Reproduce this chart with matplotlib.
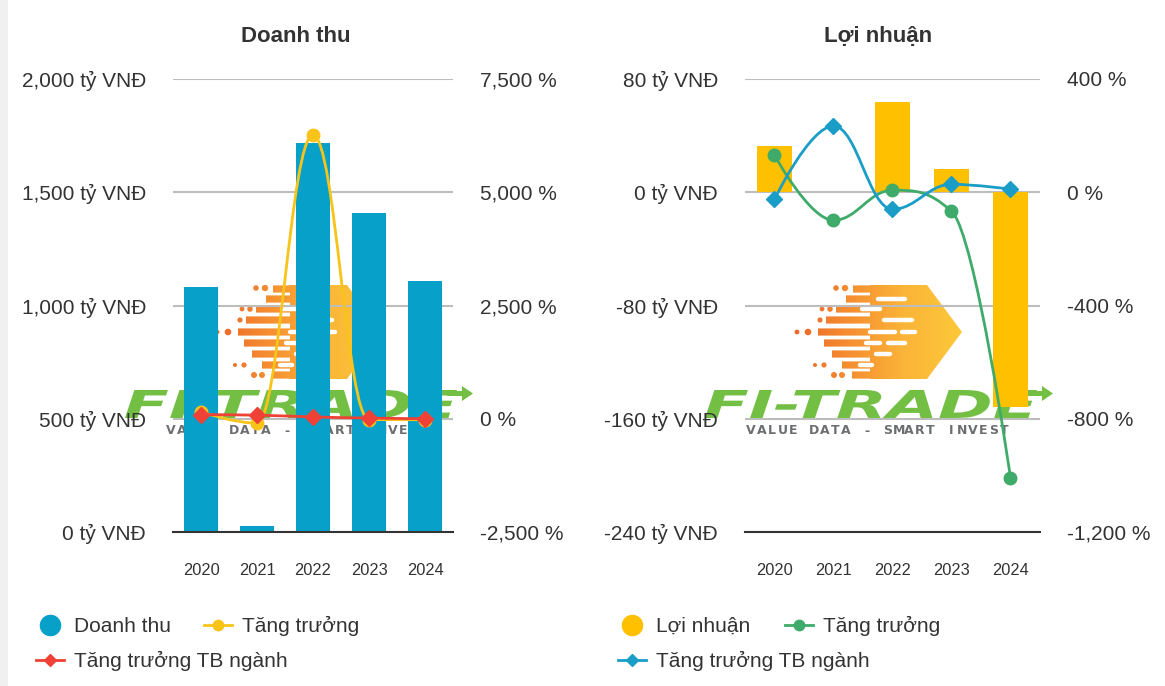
import numpy as np
import matplotlib
matplotlib.use("Agg")
import matplotlib.pyplot as plt
from matplotlib.path import Path
from matplotlib.patches import PathPatch, Polygon, Rectangle
from matplotlib.textpath import TextPath
from matplotlib.font_manager import FontProperties
from matplotlib.transforms import Affine2D

plt.rcParams['font.family'] = ['Liberation Sans', 'DejaVu Sans']

# -----------------------------
# data
# -----------------------------
years = ['2020', '2021', '2022', '2023', '2024']

doanh_thu = [1082, 27, 1717, 1408, 1108]          # ty VND
dt_tang_truong = [150, -98, 6260, -18, -21]        # %
dt_tb_nganh = [90, 80, 40, 15, 0]                  # %

loi_nhuan = [32.6, 0.3, 63.7, 16.3, -151.5]        # ty VND
ln_tang_truong = [131, -99, 7, -67, -1009]         # %
ln_tb_nganh = [-25, 234, -60, 28, 11]              # %

dt_ticks = [0, 500, 1000, 1500, 2000]
dt_pct_ticks = [-2500, 0, 2500, 5000, 7500]
ln_ticks = [-240, -160, -80, 0, 80]
ln_pct_ticks = [-1200, -800, -400, 0, 400]

# colours
BLUE_BAR = '#06a0c9'
YELLOW_BAR = '#ffc000'
YELLOW_LINE = '#f8c419'
RED_LINE = '#ef4136'
GREEN_LINE = '#3fab6a'
BLUE_LINE = '#1a9ec8'
TXT = '#333333'
GRID = '#bdbdbd'

W, H = 1165, 686


def hc_spline(xs, ys, smoothing=1.5):
    # highcharts-like spline path through the points
    n = len(xs)
    ctrl = [None] * n
    d = smoothing + 1
    for i in range(1, n - 1):
        px, py = xs[i], ys[i]
        lx, ly = xs[i - 1], ys[i - 1]
        nx, ny = xs[i + 1], ys[i + 1]
        lcx = (smoothing * px + lx) / d
        lcy = (smoothing * py + ly) / d
        rcx = (smoothing * px + nx) / d
        rcy = (smoothing * py + ny) / d
        corr = (rcy - lcy) * (rcx - px) / (rcx - lcx) + py - rcy
        lcy += corr
        rcy += corr
        if lcy > ly and lcy > py:
            lcy = max(ly, py); rcy = 2 * py - lcy
        elif lcy < ly and lcy < py:
            lcy = min(ly, py); rcy = 2 * py - lcy
        if rcy > ny and rcy > py:
            rcy = max(ny, py); lcy = 2 * py - rcy
        elif rcy < ny and rcy < py:
            rcy = min(ny, py); lcy = 2 * py - rcy
        ctrl[i] = (lcx, lcy, rcx, rcy)
    verts = [(xs[0], ys[0])]
    codes = [Path.MOVETO]
    for i in range(1, n):
        a, b = ctrl[i - 1], ctrl[i]
        c1 = (a[2], a[3]) if a else (xs[i - 1], ys[i - 1])
        c2 = (b[0], b[1]) if b else (xs[i], ys[i])
        verts += [c1, c2, (xs[i], ys[i])]
        codes += [Path.CURVE4] * 3
    return Path(verts, codes)


def draw_logo(ax, dx):
    # FI-TRADE watermark, pixel coords (y down)
    # orange arrow block with gradient
    rows = [(289, 853), (299, 846), (309, 836), (320, 826), (332, 818),
            (343, 824), (354, 832), (365, 842), (375, 852)]
    paths = [Path([(870 + dx, 285), (927 + dx, 285), (962 + dx, 332),
                   (927 + dx, 379), (870 + dx, 379), (870 + dx, 285)])]
    for yc, xs in rows:
        x0 = xs + dx
        paths.append(Path([(x0, yc - 3.6), (870 + dx, yc - 3.6), (870 + dx, yc + 3.6),
                           (x0, yc + 3.6), (x0, yc - 3.6)]))
    dots = [(836, 288, 2.8), (845, 288, 3.2), (822, 309, 2.4), (830, 309, 2.8),
            (797, 332, 2.4), (808, 332, 3.3), (820, 320, 2.6), (815, 365, 2.0),
            (824, 365, 2.6), (834, 375, 3.0), (842, 375, 3.0)]
    for cx, cy, r in dots:
        c = Path.circle((cx + dx, cy), r)
        paths.append(c)
    clip = Path.make_compound_path(*paths)
    grad = np.linspace(0, 1, 256).reshape(1, -1)
    cmap = matplotlib.colors.LinearSegmentedColormap.from_list(
        'lg', ['#ec6227', '#f58d31', '#fbb538', '#fdc83a'])
    im = ax.imshow(grad, cmap=cmap, extent=(790 + dx, 962 + dx, 379, 285),
                   aspect='auto', zorder=1)
    im.set_clip_path(PathPatch(clip, transform=ax.transData))
    # white dashes inside the block
    for (x0, x1, yc) in [(878, 905, 299), (862, 880, 309), (884, 912, 320),
                         (870, 895, 332), (902, 915, 332), (866, 880, 343),
                         (888, 905, 343), (876, 890, 354), (860, 872, 365)]:
        ax.plot([x0 + dx, x1 + dx], [yc, yc], color='white', lw=3.2,
                solid_capstyle='round', zorder=2)
    # green word mark
    fp = FontProperties(family='DejaVu Sans', weight='bold', style='oblique')
    tp = TextPath((0, 0), 'FI-TRADE', size=40, prop=fp)
    bb = tp.get_extents()
    tr = (Affine2D().translate(-bb.x0, -bb.y0)
          .scale(332 / bb.width, -28 / bb.height)
          .translate(705 + dx, 418))
    ax.add_patch(PathPatch(tr.transform_path(tp), color='#72bf44', lw=0, zorder=3))
    ax.add_patch(Polygon([(1028 + dx, 391), (1042 + dx, 391), (1042 + dx, 386),
                          (1053 + dx, 393.5), (1042 + dx, 401), (1042 + dx, 396),
                          (1027 + dx, 396)], closed=True, color='#72bf44', lw=0,
                         zorder=3))
    # tagline with wide tracking
    tag = 'VALUE DATA - SMART INVEST'
    xs = np.linspace(751, 1004, len(tag))
    for ch, xc in zip(tag, xs):
        ax.text(xc + dx, 431, ch, ha='center', va='center', fontsize=9,
                family='DejaVu Sans', weight='bold', color='#6d6e71', zorder=3)


fig = plt.figure(figsize=(W / 100, H / 100), dpi=100)
fig.patch.set_facecolor('white')

# overlay for watermark, titles and legends (pixel coords)
ovl = fig.add_axes([0, 0, 1, 1])
ovl.set_zorder(-1)
ovl.set_xlim(0, W)
ovl.set_ylim(H, 0)
ovl.axis('off')
ovl.add_patch(Rectangle((0, 0), 8, H, color='#f0f0f0', lw=0))
draw_logo(ovl, 0)
draw_logo(ovl, -580)


def panel(rect, bars, bar_color, growth, g_color, g_marker, ind, i_color, i_marker,
          lticks, llabels, rticks, rlabels):
    ax = fig.add_axes([rect[0] / W, 1 - (rect[1] + rect[3]) / H, rect[2] / W, rect[3] / H])
    ax.patch.set_visible(False)
    x = np.arange(len(years))
    ax.bar(x, bars, width=0.6, color=bar_color, zorder=2)
    ax.set_xlim(-0.5, len(years) - 0.5)
    ax.set_ylim(lticks[0], lticks[-1])
    ax.set_yticks(lticks)
    ax.set_yticklabels(llabels)
    ax.set_xticks(x)
    ax.set_xticklabels(years)
    ax.grid(axis='y', color=GRID, lw=1.5, zorder=0)
    ax.set_axisbelow(True)
    for s in ['top', 'left', 'right']:
        ax.spines[s].set_visible(False)
    ax.spines['bottom'].set_color(TXT)
    ax.spines['bottom'].set_linewidth(1.5)
    ax.tick_params(axis='y', length=0, pad=19.5, labelsize=15, labelcolor=TXT)
    ax.tick_params(axis='x', length=0, pad=22.5, labelsize=11.8, labelcolor=TXT)

    ax2 = ax.twinx()
    ax2.set_ylim(rticks[0], rticks[-1])
    ax2.set_yticks(rticks)
    ax2.set_yticklabels(rlabels)
    for s in ax2.spines.values():
        s.set_visible(False)
    ax2.tick_params(axis='y', length=0, pad=19.5, labelsize=15, labelcolor=TXT)

    ax2.add_patch(PathPatch(hc_spline(list(x), growth), fill=False, edgecolor=g_color,
                            lw=2, zorder=3))
    ax2.plot(x, growth, linestyle='none', marker=g_marker, ms=9, color=g_color,
             zorder=4, clip_on=False)
    ax2.add_patch(PathPatch(hc_spline(list(x), ind), fill=False, edgecolor=i_color,
                            lw=2, zorder=5))
    ax2.plot(x, ind, linestyle='none', marker=i_marker, ms=8.5, color=i_color,
             zorder=6, clip_on=False)
    return ax, ax2


panel((173, 79, 280, 453), doanh_thu, BLUE_BAR, dt_tang_truong, YELLOW_LINE, 'o',
      dt_tb_nganh, RED_LINE, 'D',
      dt_ticks, [f'{v:,} tỷ VNĐ' for v in dt_ticks],
      dt_pct_ticks, [f'{v:,} %' for v in dt_pct_ticks])

panel((745, 79, 295, 453), loi_nhuan, YELLOW_BAR, ln_tang_truong, GREEN_LINE, 'o',
      ln_tb_nganh, BLUE_LINE, 'D',
      ln_ticks, [f'{v:,} tỷ VNĐ' for v in ln_ticks],
      ln_pct_ticks, [f'{v:,} %' for v in ln_pct_ticks])

# titles
ovl.text(296, 37, 'Doanh thu', ha='center', va='center', fontsize=16,
         weight='bold', color=TXT)
ovl.text(878, 37, 'Lợi nhuận', ha='center', va='center', fontsize=16,
         weight='bold', color=TXT)


# legends
def leg_bar(x, y, color, label):
    ovl.plot([x], [y], marker='o', ms=14.5, color=color, linestyle='none')
    ovl.text(x + 24, y + 1, label, ha='left', va='center', fontsize=15, color=TXT)


def leg_line(x, y, color, marker, label, ms):
    ovl.plot([x - 14, x + 14], [y, y], color=color, lw=2)
    ovl.plot([x], [y], marker=marker, ms=ms, color=color, linestyle='none')
    ovl.text(x + 24, y + 1, label, ha='left', va='center', fontsize=15, color=TXT)


leg_bar(50, 625, BLUE_BAR, 'Doanh thu')
leg_line(218, 625, YELLOW_LINE, 'o', 'Tăng trưởng', 7.5)
leg_line(50, 660, RED_LINE, 'D', 'Tăng trưởng TB ngành', 6.5)

leg_bar(632, 625, YELLOW_BAR, 'Lợi nhuận')
leg_line(799, 625, GREEN_LINE, 'o', 'Tăng trưởng', 7.5)
leg_line(632, 660, BLUE_LINE, 'D', 'Tăng trưởng TB ngành', 6.5)

fig.savefig('out.png', dpi=100)
